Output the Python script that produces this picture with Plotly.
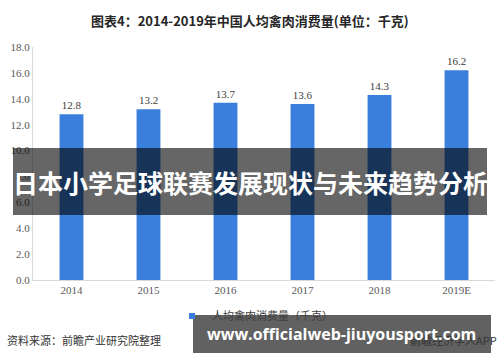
import plotly.graph_objects as go

categories = ["2014", "2015", "2016", "2017", "2018", "2019E"]
values = [12.8, 13.2, 13.7, 13.6, 14.3, 16.2]
series_name = "人均禽肉消费量（千克）"
title_text = "图表4：2014-2019年中国人均禽肉消费量(单位：千克)"
source_text = "资料来源：前瞻产业研究院整理"
brand_text = "前瞻经济学人APP"
banner_text = "日本小学足球联赛发展现状与未来趋势分析"
url_text = "www.officialweb-jiuyousport.com"

W, H = 500, 362
L, R, T, B = 33, 5, 47, 82
pw, ph = W - L - R, H - T - B

def px(x):
    return (x - L) / pw

def py(y):
    return (H - B - y) / ph

fig = go.Figure()
fig.add_trace(go.Bar(
    x=categories, y=values, name=series_name, showlegend=False,
    marker=dict(color="#3b7fdd", line=dict(width=0)),
    width=0.31,
    text=[f"{v:.1f}" for v in values], textposition="outside",
    textfont=dict(family="Liberation Serif", size=11, color="#404040"),
    cliponaxis=False,
))
# legend entry with small square swatch
fig.add_trace(go.Scatter(
    x=[categories[0]], y=[None], mode="markers", name=series_name,
    marker=dict(symbol="square", size=6, color="#3b7fdd"),
))

fig.update_layout(
    width=W, height=H,
    margin=dict(l=L, r=R, t=T, b=B),
    paper_bgcolor="white", plot_bgcolor="white",
    showlegend=True,
    legend=dict(orientation="h", x=px(172), xanchor="left", y=py(316), yanchor="middle",
                font=dict(family="Noto Sans CJK SC", size=11, color="#404040"),
                itemwidth=30, bgcolor="rgba(0,0,0,0)"),
    bargap=0.69,
    xaxis=dict(showline=True, linecolor="#d9d9d9", linewidth=1, ticks="",
               tickfont=dict(family="Liberation Serif", size=11, color="#595959"),
               showgrid=False),
    yaxis=dict(range=[0, 18], dtick=2, tickformat=".1f", showline=True, linecolor="#d9d9d9",
               linewidth=1, showgrid=False, zeroline=False, ticks="",
               tickfont=dict(family="Liberation Serif", size=11, color="#595959")),
)

fig.add_annotation(text="<b>" + title_text + "</b>", xref="paper", yref="paper",
                   x=px(250), y=py(20), xanchor="center", yanchor="middle", showarrow=False,
                   font=dict(family="Noto Sans CJK SC", size=13, color="#262626"))
fig.add_annotation(text=source_text, xref="paper", yref="paper",
                   x=px(5), y=py(340), xanchor="left", yanchor="middle", showarrow=False,
                   font=dict(family="Noto Sans CJK SC", size=11, color="#333333"))
fig.add_annotation(text=brand_text, xref="paper", yref="paper",
                   x=px(499), y=py(340), xanchor="right", yanchor="middle", showarrow=False,
                   font=dict(family="Noto Sans CJK SC", size=11, color="#333333"))

# overlay banners
fig.add_shape(type="rect", xref="paper", yref="paper", layer="above",
              x0=px(13), x1=px(487), y0=py(215), y1=py(148),
              fillcolor="rgba(0,0,0,0.6)", line=dict(width=0))
fig.add_annotation(text="<b>" + banner_text + "</b>", xref="paper", yref="paper",
                   x=px(250), y=py(182), xanchor="center", yanchor="middle", showarrow=False,
                   font=dict(family="Noto Sans CJK SC", size=25, color="white"))
fig.add_shape(type="rect", xref="paper", yref="paper", layer="above",
              x0=px(193), x1=px(491), y0=py(353), y1=py(315),
              fillcolor="rgba(0,0,0,0.62)", line=dict(width=0))
fig.add_annotation(text="<b>" + url_text + "</b>", xref="paper", yref="paper",
                   x=px(341), y=py(334), xanchor="center", yanchor="middle", showarrow=False,
                   font=dict(family="Open Sans", size=16, color="white"))

fig.write_html("out.html")
